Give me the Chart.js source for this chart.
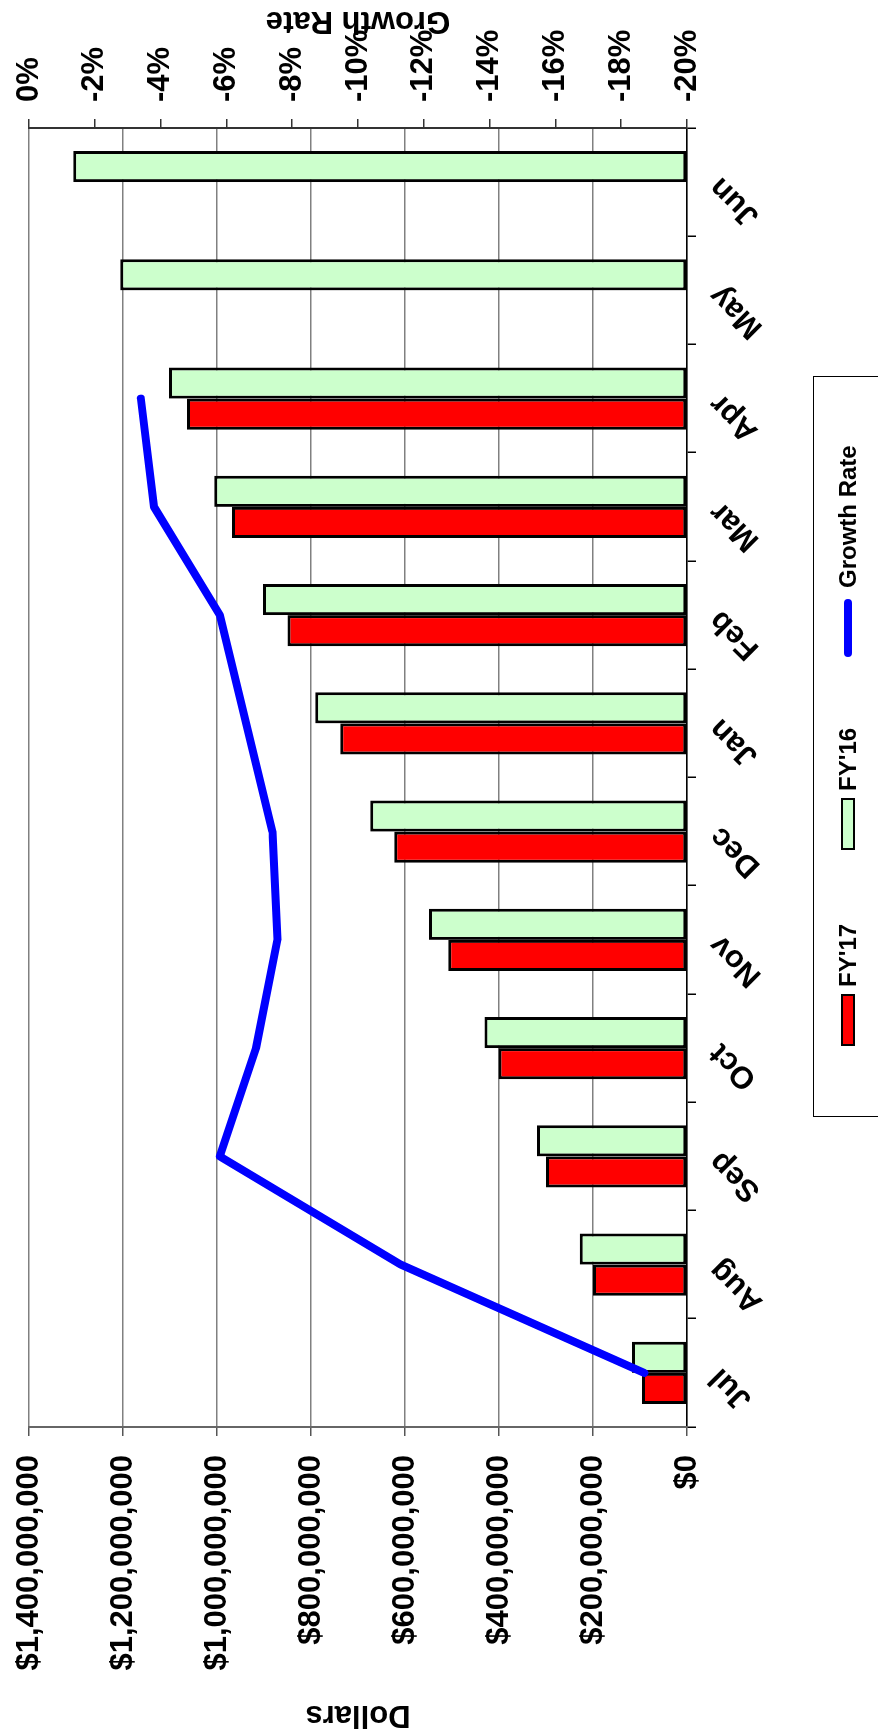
<!DOCTYPE html>
<html>
<head>
<meta charset="utf-8">
<script src="https://cdn.jsdelivr.net/npm/chart.js@4.4.1/dist/chart.umd.min.js"></script>
<style>
html, body { margin: 0; padding: 0; background: #fff; overflow: hidden; width: 878px; height: 1733px; }
/* chart is drawn landscape, then turned a quarter turn left to fit the tall page */
#wrap { position: absolute; left: 0; top: 0; width: 1733px; height: 878px;
        transform-origin: 0 0; transform: translateY(1733px) rotate(-90deg);
        font-family: 'Liberation Sans', Arial, sans-serif; }
#legend { position: absolute; left: 616px; top: 813px; width: 741px; height: 100px;
          border: 1.5px solid #000; box-sizing: border-box; }
.item { position: absolute; top: 20px; height: 28px; display: flex; align-items: center;
        font-weight: bold; font-size: 24px; color: #000; white-space: nowrap; }
.box { width: 52px; height: 14px; border: 2px solid #000; box-sizing: border-box; margin-right: 7px; }
.line { width: 58px; height: 8px; border-radius: 4px; margin-right: 11px; }
</style>
</head>
<body>
<div id="wrap">
  <canvas id="myChart" width="1733" height="878"></canvas>
  <div id="legend"></div>
</div>
<script>
const months = ['Jul', 'Aug', 'Sep', 'Oct', 'Nov', 'Dec', 'Jan', 'Feb', 'Mar', 'Apr', 'May', 'Jun'];
// cumulative dollars, in millions
const fy17 = [96, 200, 300, 401, 508, 623, 738, 850, 968, 1064, null, null];
const fy16 = [117, 228, 319, 431, 549, 674, 791, 902, 1006, 1102, 1206, 1306];
// growth rate, percent
const growth = [-18.7, -11.3, -5.8, -6.9, -7.55, -7.4, -6.6, -5.8, -3.8, -3.4, null, null];

const seriesNames = ["FY'17", "FY'16", 'Growth Rate'];
const seriesColors = ['#FF0000', '#CCFFCC', '#0000FF'];

const FONT = "'Liberation Sans', Arial, sans-serif";
Chart.defaults.font.family = FONT;
Chart.defaults.font.weight = 'bold';
Chart.defaults.color = '#000';

// Chart.js turns a right axis title the other way, so this one is drawn by hand
const rightTitle = {
    id: 'rightTitle',
    afterDraw(chart) {
        const ctx = chart.ctx;
        const a = chart.chartArea;
        ctx.save();
        ctx.translate(chart.scales.y1.right - 21, (a.top + a.bottom) / 2);
        ctx.rotate(-Math.PI / 2);
        ctx.font = "bold 31px " + FONT;
        ctx.fillStyle = '#000';
        ctx.textAlign = 'center';
        ctx.textBaseline = 'middle';
        ctx.fillText(seriesNames[2], 0, 0);
        ctx.restore();
    }
};

// fixed axis sizes so the plot sits where it does in the original
const fixWidth = (w) => (scale) => { scale.width = w; scale.paddingTop = 0; scale.paddingBottom = 0; };

let ctx = document.getElementById('myChart').getContext('2d');
let myChart = new Chart(ctx, {
    type: 'bar',
    data: {
        labels: months,
        datasets: [
            {
                type: 'line', label: seriesNames[2], data: growth, yAxisID: 'y1', order: 0,
                borderColor: seriesColors[2], borderWidth: 8, pointRadius: 0, tension: 0,
                borderCapStyle: 'round', borderJoinStyle: 'round', fill: false
            },
            {
                label: seriesNames[0], data: fy17, yAxisID: 'y', order: 1,
                backgroundColor: seriesColors[0], borderColor: '#000', borderWidth: 3, borderSkipped: false,
                barPercentage: 1, categoryPercentage: 0.575
            },
            {
                label: seriesNames[1], data: fy16, yAxisID: 'y', order: 1,
                backgroundColor: seriesColors[1], borderColor: '#000', borderWidth: 3, borderSkipped: false,
                barPercentage: 1, categoryPercentage: 0.575
            }
        ]
    },
    options: {
        responsive: false,
        animation: false,
        layout: { padding: { top: 29, left: 0, right: 0, bottom: 0 } },
        plugins: { legend: { display: false }, tooltip: { enabled: false } },
        scales: {
            x: {
                grid: { offset: true, drawOnChartArea: false, tickLength: 9, color: '#000', lineWidth: 1.5 },
                border: { color: '#000', width: 1.5 },
                ticks: { font: { size: 31, weight: 'bold' }, minRotation: 45, maxRotation: 45, autoSkip: false, padding: 6 },
                afterFit: (scale) => { scale.height = 191; scale.paddingLeft = 0; scale.paddingRight = 0; }
            },
            y: {
                position: 'left', min: 0, max: 1400,
                grid: { color: '#808080', lineWidth: 1.5, tickLength: 9, tickColor: '#555' },
                border: { color: '#666', width: 2 },
                ticks: {
                    stepSize: 200, padding: 19, font: { size: 31, weight: 'bold' },
                    callback: (v) => '$' + (v * 1000000).toLocaleString('en-US')
                },
                title: { display: true, text: 'Dollars', font: { size: 31, weight: 'bold' }, padding: 0 },
                afterFit: fixWidth(306)
            },
            y1: {
                position: 'right', min: -20, max: 0,
                grid: { drawOnChartArea: false, tickLength: 9, color: '#333', lineWidth: 1.5 },
                border: { color: '#333', width: 2 },
                ticks: {
                    stepSize: 2, padding: 17, font: { size: 31, weight: 'bold' },
                    callback: (v) => Math.round(v) + '%'
                },
                afterFit: fixWidth(128)
            }
        }
    },
    plugins: [rightTitle]
});

// legend box, laid out like the original
const legend = document.getElementById('legend');
const legendLeft = [70, 266, 459];
seriesNames.forEach((name, i) => {
    const item = document.createElement('div');
    item.className = 'item';
    item.style.left = legendLeft[i] + 'px';
    const mark = document.createElement('span');
    if (i < 2) {
        mark.className = 'box';
    } else {
        mark.className = 'line';
    }
    mark.style.background = seriesColors[i];
    item.appendChild(mark);
    item.appendChild(document.createTextNode(name));
    legend.appendChild(item);
});
</script>
</body>
</html>
